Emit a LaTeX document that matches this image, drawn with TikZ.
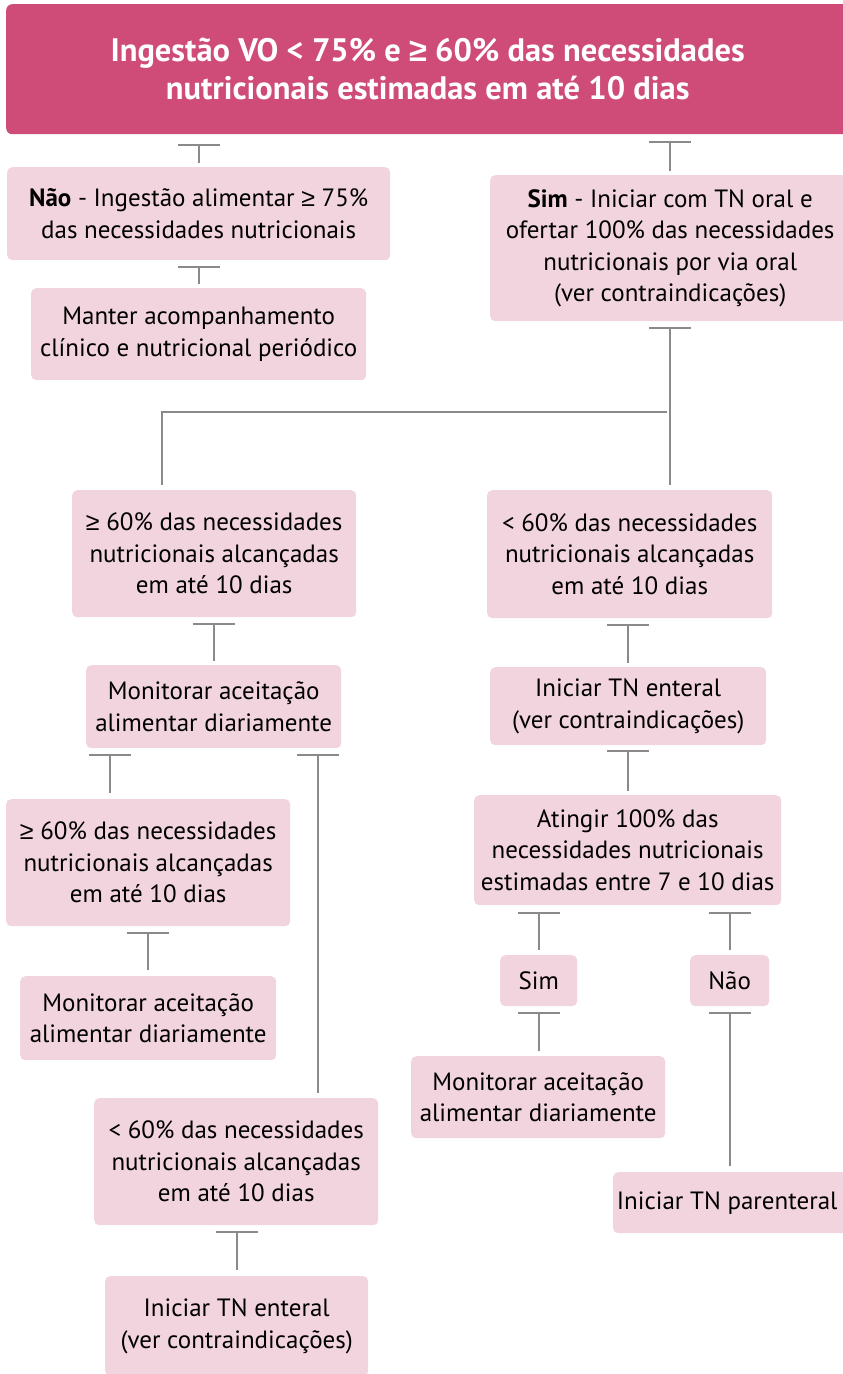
\documentclass[tikz,border=0pt]{standalone}
\usepackage{fontspec}
\setmainfont{PT Sans}
\newfontfamily\symfont{Liberation Sans}
\newcommand{\gteq}{{\symfont ≥}}
\usetikzlibrary{arrows.meta,calc}
\definecolor{titlepink}{RGB}{206,76,119}
\definecolor{boxpink}{RGB}{242,212,222}
\definecolor{conngray}{RGB}{138,138,138}
\tikzset{
  box/.style={fill=boxpink, rounded corners=5pt, anchor=north west, align=center,
    inner sep=0pt, font=\fontsize{25}{31.5}\selectfont, text=black},
  titlebox/.style={fill=titlepink, rounded corners=6pt, anchor=north west, align=center,
    inner sep=0pt, font=\fontsize{32.5}{38}\selectfont\bfseries, text=white},
  conn/.style={draw=conngray, line width=2pt, {Bar[width=42pt]}-},
  plain/.style={draw=conngray, line width=2pt},
}
\begin{document}
\begin{tikzpicture}[x=1pt,y=-1pt]
\useasboundingbox (0,0) rectangle (843,1374);
% nodes
\node[titlebox, minimum width=843pt, minimum height=130pt] (title) at (6,4)
  {Ingestão VO < 75\% e \gteq{} 60\% das necessidades\\nutricionais estimadas em até 10 dias};
\node[box, minimum width=383pt, minimum height=93pt] (nao) at (7,167)
  {\textbf{Não} - Ingestão alimentar \gteq{} 75\%\\das necessidades nutricionais};
\node[box, minimum width=335pt, minimum height=92pt] (manter) at (31,288)
  {Manter acompanhamento\\clínico e nutricional periódico};
\node[box, minimum width=360pt, minimum height=146pt] (sim) at (490,175)
  {\textbf{Sim} - Iniciar com TN oral e\\ofertar 100\% das necessidades\\nutricionais por via oral\\(ver contraindicações)};
\node[box, minimum width=284pt, minimum height=127pt] (ge60) at (72,490)
  {\gteq{} 60\% das necessidades\\nutricionais alcançadas\\em até 10 dias};
\node[box, minimum width=285pt, minimum height=128pt] (lt60) at (487,490)
  {< 60\% das necessidades\\nutricionais alcançadas\\em até 10 dias};
\node[box, minimum width=255pt, minimum height=83pt] (mon1) at (86,665)
  {Monitorar aceitação\\alimentar diariamente};
\node[box, minimum width=276pt, minimum height=78pt] (ent1) at (490,667)
  {Iniciar TN enteral\\(ver contraindicações)};
\node[box, minimum width=307pt, minimum height=110pt] (ating) at (474,795)
  {Atingir 100\% das\\necessidades nutricionais\\estimadas entre 7 e 10 dias};
\node[box, minimum width=77pt, minimum height=51pt] (sim2) at (500,955) {Sim};
\node[box, minimum width=79pt, minimum height=51pt] (nao2) at (690,955) {Não};
\node[box, minimum width=254pt, minimum height=82pt] (mon3) at (411,1056)
  {Monitorar aceitação\\alimentar diariamente};
\node[box, minimum width=240pt, minimum height=61pt] (paren) at (613,1172)
  {Iniciar TN parenteral\hspace*{12pt}};
\node[box, minimum width=284pt, minimum height=127pt] (ge60b) at (6,799)
  {\gteq{} 60\% das necessidades\\nutricionais alcançadas\\em até 10 dias};
\node[box, minimum width=256pt, minimum height=84pt] (mon2) at (20,976)
  {Monitorar aceitação\\alimentar diariamente};
\node[box, minimum width=284pt, minimum height=127pt] (lt60b) at (94,1098)
  {< 60\% das necessidades\\nutricionais alcançadas\\em até 10 dias};
\node[box, minimum width=263pt, minimum height=100pt] (ent2) at (105,1276)
  {Iniciar TN enteral\\(ver contraindicações)};
% helper x positions
\coordinate (xa) at (110,0);
\coordinate (xb) at (318,0);
\coordinate (xl) at (162,0);
\coordinate (j1) at (667,412);
% connectors
\draw[conn] ([yshift=-10pt]title.south -| nao.north) -- ([yshift=4pt]nao.north);
\draw[conn] ([yshift=-6pt]nao.south) -- ([yshift=4pt]manter.north -| nao.south);
\draw[conn] ([yshift=-7pt]title.south -| sim.north) -- ([yshift=4pt]sim.north);
\draw[conn] ([yshift=-6pt]sim.south) -- ([yshift=5pt]lt60.north -| sim.south);
\draw[plain] (j1) -- (j1 -| xl) -- ([yshift=5pt]ge60.north -| xl);
\draw[conn] ([yshift=-6pt]ge60.south -| mon1.north) -- ([yshift=4pt]mon1.north);
\draw[conn] ([yshift=-6pt]lt60.south -| ent1.north) -- ([yshift=4pt]ent1.north);
\draw[conn] ([yshift=-5pt]ent1.south) -- ([yshift=4pt]ating.north -| ent1.south);
\draw[conn] ([yshift=-7pt]ating.south -| sim2.north) -- ([yshift=5pt]sim2.north);
\draw[conn] ([yshift=-7pt]ating.south -| nao2.north) -- ([yshift=5pt]nao2.north);
\draw[conn] ([yshift=-6pt]sim2.south) -- ([yshift=5pt]mon3.north -| sim2.south);
\draw[conn] ([yshift=-6pt]nao2.south) -- ([yshift=6pt]paren.north -| nao2.south);
\draw[conn] ([yshift=-6pt]mon1.south -| xa) -- ([yshift=6pt]ge60b.north -| xa);
\draw[conn] ([yshift=-6pt]mon1.south -| xb) -- ([yshift=5pt]lt60b.north -| xb);
\draw[conn] ([yshift=-6pt]ge60b.south -| mon2.north) -- ([yshift=6pt]mon2.north);
\draw[conn] ([yshift=-6pt]lt60b.south -| ent2.north) -- ([yshift=6pt]ent2.north);
\end{tikzpicture}
\end{document}
